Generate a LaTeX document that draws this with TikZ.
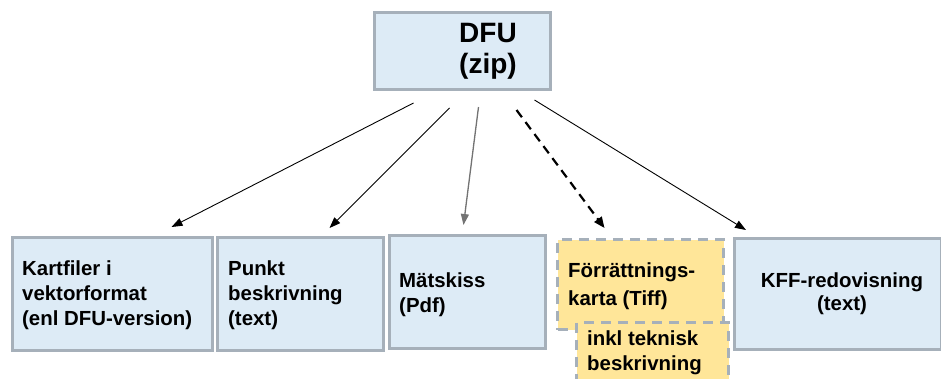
\documentclass[tikz,border=0pt]{standalone}
\usepackage{fontspec}
\setmainfont{Liberation Sans}
\usetikzlibrary{arrows.meta}
\definecolor{boxblue}{HTML}{DDEBF6}
\definecolor{boxline}{HTML}{A6B0BA}
\definecolor{boxyellow}{HTML}{FFE699}
\tikzset{
  bluebox/.style={draw=boxline, fill=boxblue, line width=3pt, inner sep=0pt, anchor=north west},
  yelbox/.style={draw=boxline, fill=boxyellow, line width=3pt, inner sep=0pt, anchor=north west, dash pattern=on 10pt off 7pt},
  lbl/.style={inner sep=0pt, align=left, anchor=base west, font=\fontsize{20.4}{25}\selectfont\bfseries},
  conn/.style={-{Triangle[length=11pt,width=8pt]}, line width=0.9pt, black},
  dconn/.style={-{Triangle[length=11pt,width=9pt]}, line width=2.2pt, black, dash pattern=on 9pt off 6pt},
}
\begin{document}
\begin{tikzpicture}[x=1pt,y=-1pt]
\useasboundingbox (0,0) rectangle (941,378);
% top
\node[bluebox, minimum width=176pt, minimum height=77pt] (dfu) at (373,11) {};
\node[inner sep=0pt, align=center, anchor=base, font=\fontsize{28}{31}\selectfont\bfseries] (dfut) at (488,73) {DFU\\(zip)};
% bottom boxes
\node[bluebox, minimum width=200pt, minimum height=113pt] (kart) at (11,236) {};
\node[lbl] (kartt) at (22,325) {Kartfiler i\\vektorformat\\(enl DFU-version)};
\node[bluebox, minimum width=166pt, minimum height=113pt] (punkt) at (216,236) {};
\node[lbl] (punktt) at (228,325) {Punkt\\beskrivning\\(text)};
\node[bluebox, minimum width=156pt, minimum height=113pt] (mat) at (388,234) {};
\node[lbl] (matt) at (399,312) {Mätskiss\\(Pdf)};
\node[yelbox, minimum width=166pt, minimum height=90pt] (forr) at (556,238) {};
\node[lbl, font=\fontsize{20.4}{28}\selectfont\bfseries] (forrt) at (568,305) {Förrättnings-\\karta (Tiff)};
\node[yelbox, minimum width=152pt, minimum height=70pt] (inkl) at (575,321) {};
\node[lbl] (inklt) at (587,370) {inkl teknisk\\beskrivning};
\node[bluebox, minimum width=207pt, minimum height=111pt] (kff) at (733,237) {};
\node[inner sep=0pt, align=center, anchor=base, font=\fontsize{20.4}{23}\selectfont\bfseries] (kfft) at (842,310) {KFF-redovisning\\(text)};
% connectors
\draw[conn] ([xshift=-49pt,yshift=-12pt]dfu.south) -- ([xshift=59pt,yshift=9pt]kart.north);
\draw[conn] ([xshift=-13pt,yshift=-17pt]dfu.south) -- ([xshift=29pt,yshift=8pt]punkt.north);
\draw[conn, draw=black!55, fill=black!55, line width=1.3pt] ([xshift=16pt,yshift=-16pt]dfu.south) -- ([xshift=-4pt,yshift=9pt]mat.north);
\draw[dconn] ([xshift=54pt,yshift=-19pt]dfu.south) -- ([xshift=-36pt,yshift=10pt]forr.north);
\draw[conn] ([xshift=72pt,yshift=-9pt]dfu.south) -- ([xshift=-92pt,yshift=7pt]kff.north);
\end{tikzpicture}
\end{document}
